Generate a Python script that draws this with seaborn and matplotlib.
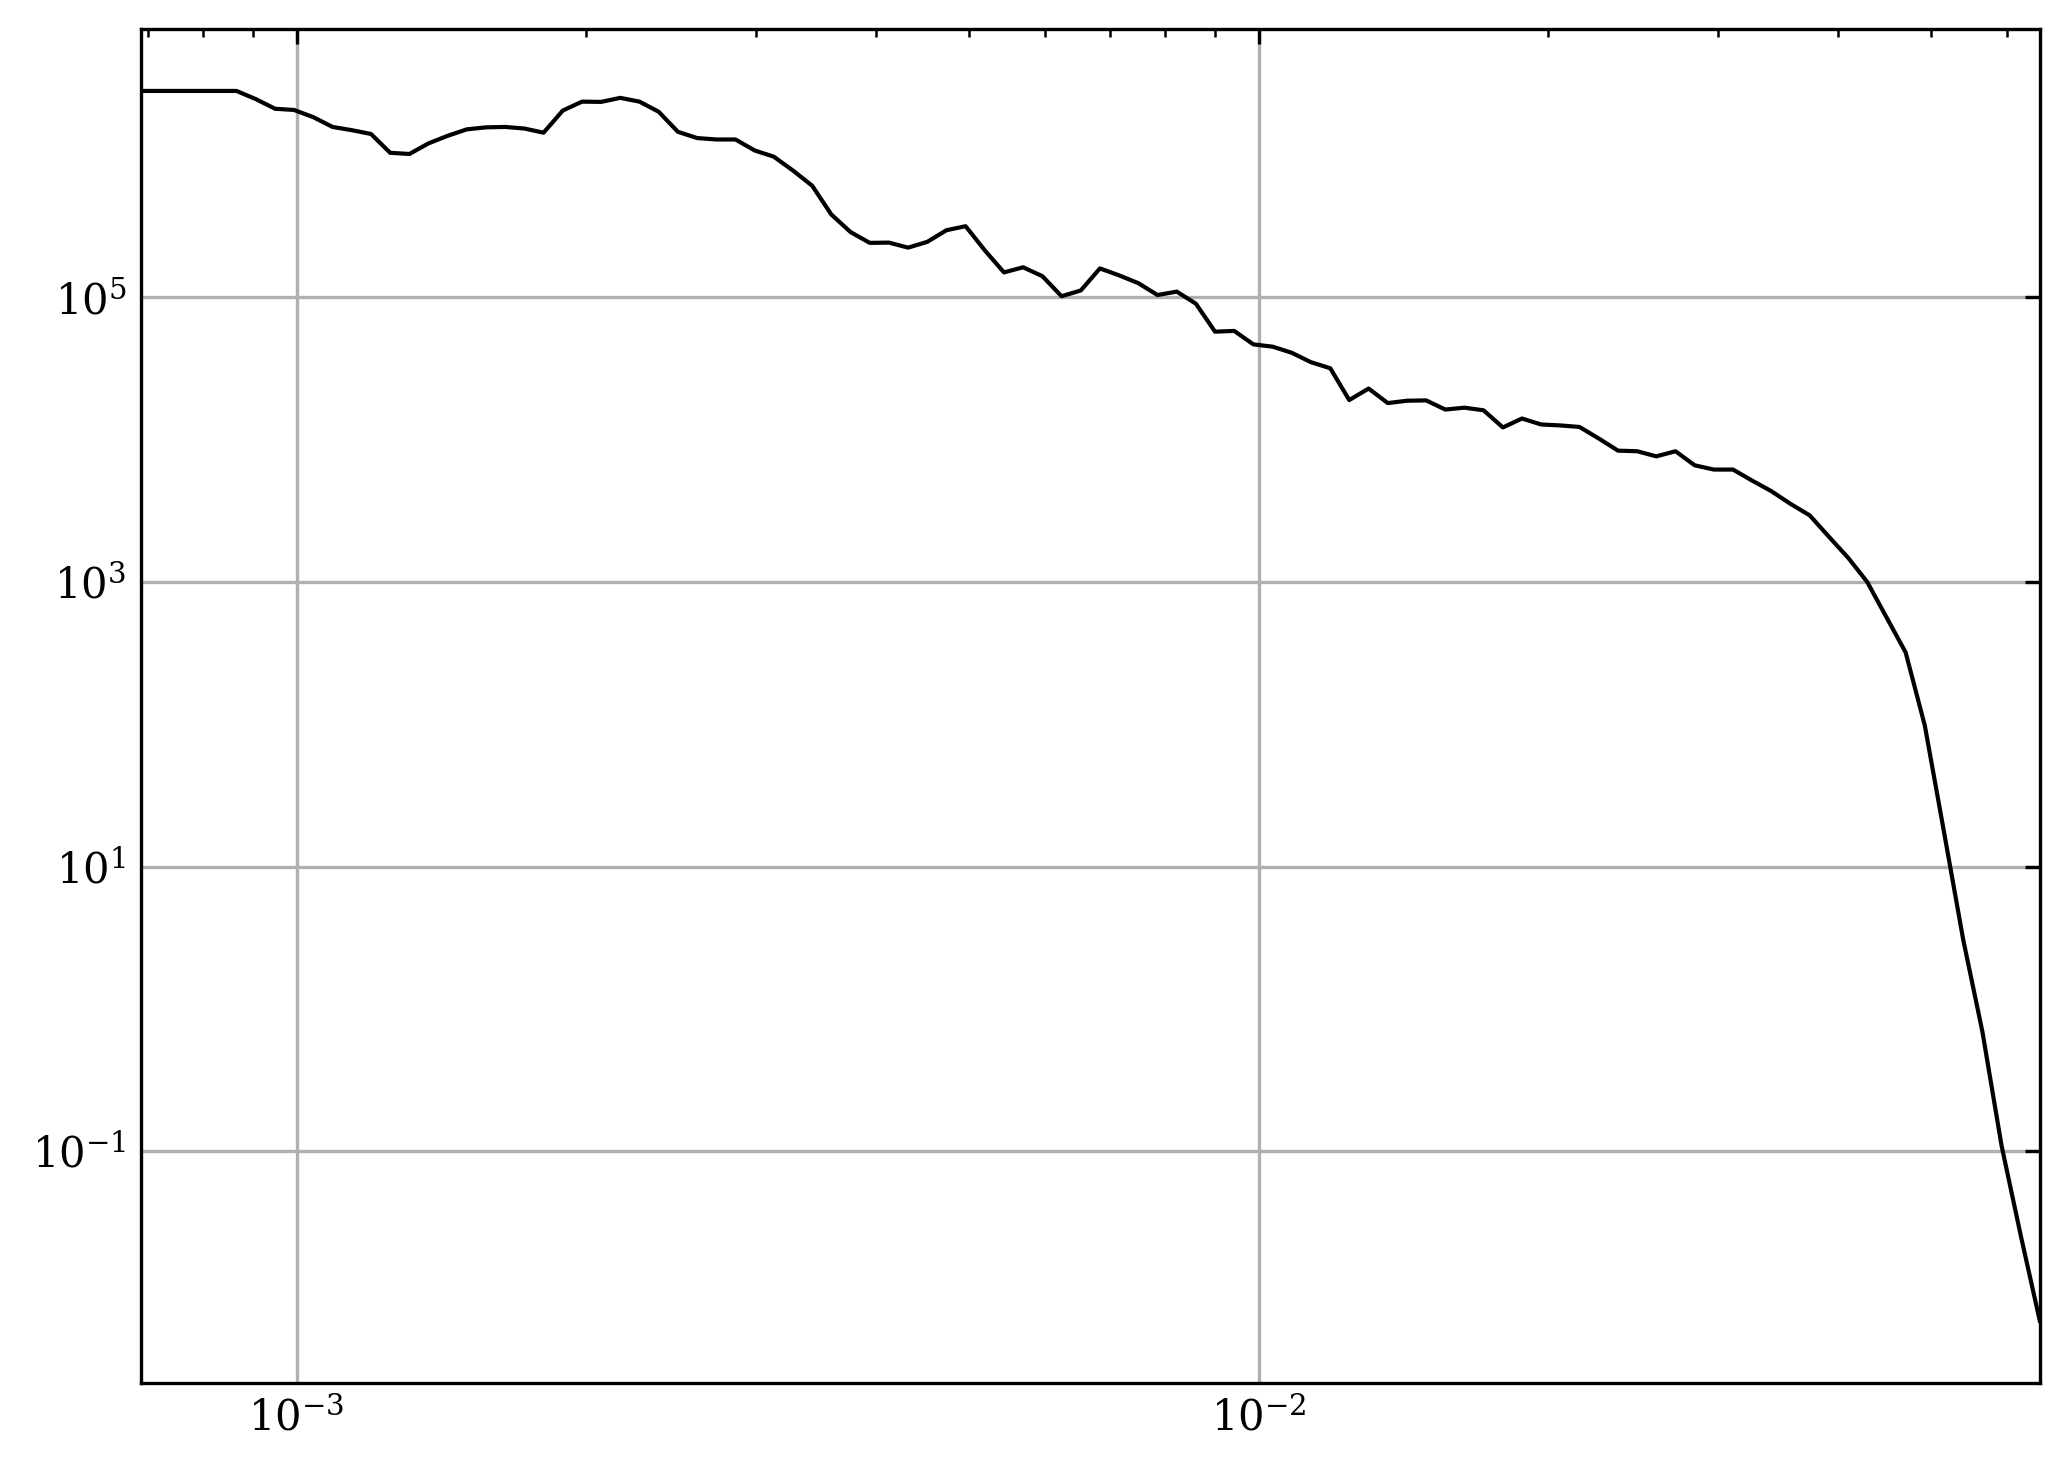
import numpy as np
import pandas as pd
import matplotlib
matplotlib.use("Agg")
import matplotlib.pyplot as plt
import matplotlib.ticker as mticker
import seaborn as sns

# frequency grid
freq = [
    6.887e-4, 7.21e-4, 7.55e-4, 7.90e-4, 8.28e-4, 8.66e-4, 9.07e-4, 9.50e-4, 9.94e-4, 1.041e-3,
    1.090e-3, 1.141e-3, 1.195e-3, 1.251e-3, 1.310e-3, 1.371e-3, 1.436e-3, 1.503e-3, 1.574e-3, 1.648e-3,
    1.725e-3, 1.806e-3, 1.891e-3, 1.980e-3, 2.073e-3, 2.170e-3, 2.272e-3, 2.379e-3, 2.491e-3, 2.608e-3,
    2.731e-3, 2.859e-3, 2.993e-3, 3.133e-3, 3.281e-3, 3.435e-3, 3.596e-3, 3.766e-3, 3.942e-3, 4.128e-3,
    4.321e-3, 4.524e-3, 4.737e-3, 4.959e-3, 5.193e-3, 5.436e-3, 5.691e-3, 5.960e-3, 6.239e-3, 6.533e-3,
    6.839e-3, 7.161e-3, 7.498e-3, 7.850e-3, 8.219e-3, 8.605e-3, 9.008e-3, 9.432e-3, 9.874e-3, 1.034e-2,
    1.082e-2, 1.133e-2, 1.187e-2, 1.242e-2, 1.301e-2, 1.362e-2, 1.426e-2, 1.493e-2, 1.563e-2, 1.636e-2,
    1.713e-2, 1.794e-2, 1.878e-2, 1.966e-2, 2.059e-2, 2.155e-2, 2.257e-2, 2.363e-2, 2.474e-2, 2.590e-2,
    2.712e-2, 2.839e-2, 2.973e-2, 3.112e-2, 3.258e-2, 3.411e-2, 3.571e-2, 3.739e-2, 3.915e-2, 4.099e-2,
    4.291e-2, 4.493e-2, 4.704e-2, 4.925e-2, 5.157e-2, 5.399e-2, 5.653e-2, 5.918e-2, 6.196e-2, 6.488e-2,
]

# spectrum values
power = [
    2.83e6, 2.83e6, 2.83e6, 2.83e6, 2.83e6, 2.83e6, 2.48e6, 2.12e6, 2.08e6, 1.85e6,
    1.58e6, 1.50e6, 1.41e6, 1.04e6, 1.02e6, 1.21e6, 1.37e6, 1.52e6, 1.57e6, 1.58e6,
    1.54e6, 1.44e6, 2.06e6, 2.38e6, 2.37e6, 2.53e6, 2.38e6, 2.02e6, 1.46e6, 1.32e6,
    1.29e6, 1.29e6, 1.08e6, 9.77e5, 7.80e5, 6.10e5, 3.83e5, 2.88e5, 2.42e5, 2.43e5,
    2.24e5, 2.46e5, 2.97e5, 3.17e5, 2.14e5, 1.50e5, 1.63e5, 1.41e5, 1.02e5, 1.12e5,
    1.60e5, 1.43e5, 1.26e5, 1.04e5, 1.10e5, 9.04e4, 5.75e4, 5.82e4, 4.68e4, 4.51e4,
    4.09e4, 3.51e4, 3.18e4, 1.90e4, 2.29e4, 1.81e4, 1.88e4, 1.89e4, 1.63e4, 1.68e4,
    1.61e4, 1.22e4, 1.41e4, 1.28e4, 1.26e4, 1.23e4, 1.02e4, 8.38e3, 8.30e3, 7.64e3,
    8.30e3, 6.61e3, 6.17e3, 6.17e3, 5.16e3, 4.35e3, 3.54e3, 2.94e3, 2.08e3, 1.48e3,
    1.00e3, 5.65e2, 3.20e2, 9.79e1, 1.74e1, 3.06, 0.689, 0.109, 0.0255, 0.00631,
]

y_ticks = [1e-3, 1e-1, 1e1, 1e3, 1e5, 1e7]


def main():
    sns.set_style("white")
    plt.rcParams["font.family"] = ["DejaVu Serif"]
    plt.rcParams["mathtext.fontset"] = "dejavuserif"
    plt.rcParams["font.size"] = 10

    df = pd.DataFrame({"freq": freq, "power": power})

    fig, ax = plt.subplots(figsize=(6.9, 4.9), dpi=300)
    ax.set_xscale("log")
    ax.set_yscale("log")
    sns.lineplot(data=df, x="freq", y="power", color="black", linewidth=1.0, ax=ax)

    ax.set_xlim(freq[0], freq[-1])
    # every other decade on y, no minor ticks there
    ax.yaxis.set_major_locator(mticker.FixedLocator(y_ticks))
    ax.yaxis.set_minor_locator(mticker.NullLocator())
    ax.set_xlabel("")
    ax.set_ylabel("")
    ax.grid(True, which="major", color="#b0b0b0", linewidth=0.8)
    ax.tick_params(which="both", direction="in", top=True, right=True,
                   colors="black", labelsize=10)
    ax.tick_params(which="major", length=3.5, width=0.8)
    ax.tick_params(which="minor", length=2, width=0.6)
    for s in ax.spines.values():
        s.set_color("black")
        s.set_linewidth(0.8)

    fig.subplots_adjust(left=0.068, right=0.9855, bottom=0.059, top=0.980)
    fig.savefig("out.png", dpi=300)
    plt.close(fig)


if __name__ == "__main__":
    main()
